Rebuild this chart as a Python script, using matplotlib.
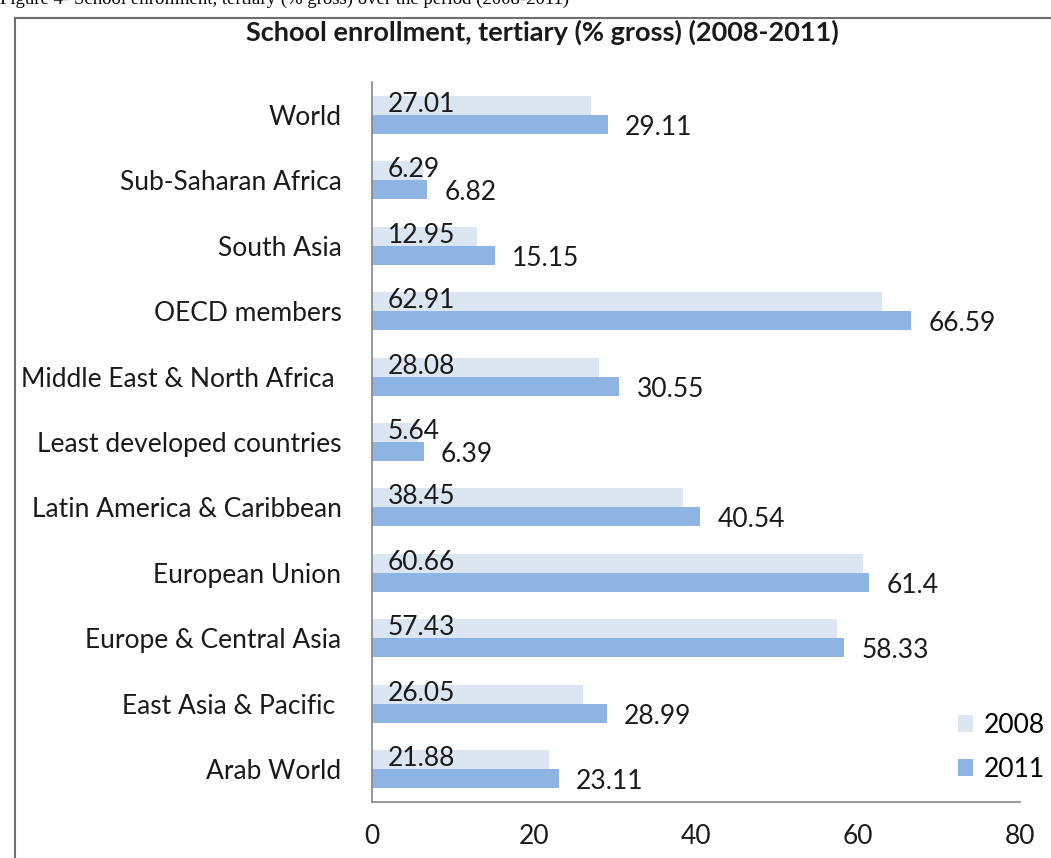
import matplotlib
matplotlib.use("Agg")
import matplotlib.pyplot as plt
from matplotlib.patches import Rectangle
import numpy as np

plt.rcParams['font.family'] = ['Lato', 'DejaVu Sans']

regions = ['World', 'Sub-Saharan Africa', 'South Asia', 'OECD members',
           'Middle East & North Africa ', 'Least developed countries',
           'Latin America & Caribbean', 'European Union',
           'Europe & Central Asia', 'East Asia & Pacific ', 'Arab World']
v2008 = [27.01, 6.29, 12.95, 62.91, 28.08, 5.64, 38.45, 60.66, 57.43, 26.05, 21.88]
v2011 = [29.11, 6.82, 15.15, 66.59, 30.55, 6.39, 40.54, 61.4, 58.33, 28.99, 23.11]
lab2008 = ['27.01', '6.29', '12.95', '62.91', '28.08', '5.64', '38.45', '60.66', '57.43', '26.05', '21.88']
lab2011 = ['29.11', '6.82', '15.15', '66.59', '30.55', '6.39', '40.54', '61.4', '58.33', '28.99', '23.11']
xticks = [0, 20, 40, 60, 80]

c2008 = '#dce6f2'
c2011 = '#8eb4e3'
fs = 19

fig = plt.figure(figsize=(10.51, 8.58), dpi=100)
ax = fig.add_axes([0.354, 0.0653, 0.6165, 0.8391])

y = np.arange(len(regions))
h = 0.29
ax.barh(y - h / 2, v2008, height=h, color=c2008, label='2008')
ax.barh(y + h / 2, v2011, height=h, color=c2011, label='2011')

for i in range(len(regions)):
    ax.annotate(lab2008[i], xy=(0, y[i] - h / 2), xytext=(16, 1),
                textcoords='offset pixels', ha='left', va='center', fontsize=fs, color='#1a1a1a')
    ax.annotate(lab2011[i], xy=(v2011[i], y[i] + h / 2), xytext=(17, -3),
                textcoords='offset pixels', ha='left', va='center', fontsize=fs, color='#1a1a1a')

ax.set_xlim(0, 80)
ax.set_ylim(len(regions) - 0.5, -0.5)
ax.set_xticks(xticks)
ax.set_yticks(y)
ax.set_yticklabels(regions)
ax.tick_params(axis='both', length=0, labelsize=fs, colors='#1a1a1a')
ax.tick_params(axis='y', pad=22)
ax.tick_params(axis='x', pad=16)
for s in ['top', 'right']:
    ax.spines[s].set_visible(False)
for s in ['left', 'bottom']:
    ax.spines[s].set_color('#868686')
    ax.spines[s].set_linewidth(1.2)

ax.legend(loc='lower left', bbox_to_anchor=(0.867, -0.005), frameon=False, fontsize=fs,
          handlelength=0.6, handleheight=0.6, handletextpad=0.4, labelspacing=0.72)

fig.text(0.5165, 1 - 32 / 858, 'School enrollment, tertiary (% gross) (2008-2011)',
         ha='center', va='center', fontsize=19.5, fontweight='bold', color='#1a1a1a')

fig.text(0.0, 1 - 4 / 858, 'Figure 4- School enrollment, tertiary (% gross) over the period (2008-2011)',
         ha='left', va='baseline', fontsize=13.5, family='Liberation Serif', color='black')

fig.patches.append(Rectangle((15 / 1051, -0.05), 1.1, 1 - 18 / 858 + 0.05,
                             transform=fig.transFigure, fill=False,
                             edgecolor='#6e6e6e', linewidth=1.5, figure=fig))

fig.savefig('out.png', dpi=100)
